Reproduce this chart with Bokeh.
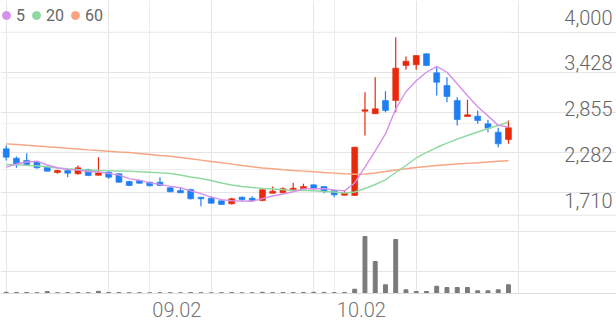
from bokeh.plotting import figure
from bokeh.models import (Range1d, LinearAxis, FixedTicker, Grid, Span, Legend,
                          LegendItem, ColumnDataSource)
from bokeh.core.properties import value
from bokeh.embed import file_html
from bokeh.resources import INLINE

# ---------------- data ----------------
opens = [2541, 2423, 2395, 2373, 2311, 2244, 2269, 2228, 2282, 2210,
         2248, 2228, 2132, 2144, 2123, 2123, 2053, 2019, 2032, 1935,
         1923, 1890, 1853, 1935, 1923, 1894, 1985, 1990, 2028, 2040,
         2090, 2069, 2019, 1960, 1956, 3011, 2979, 3145, 3145, 3583,
         3592, 3730, 3492, 3333, 3145, 2945, 2949, 2854, 2749, 2657]
highs = [2582, 2444, 2486, 2386, 2320, 2278, 2278, 2332, 2291, 2436,
         2269, 2236, 2140, 2153, 2128, 2186, 2060, 2060, 2040, 1937,
         1944, 1894, 1928, 1944, 1948, 2040, 2069, 2060, 2115, 2103,
         2094, 2072, 2022, 2019, 2565, 3249, 3437, 3262, 3937, 3696,
         3712, 3735, 3562, 3437, 3187, 3154, 3020, 2904, 2804, 2895]
lows = [2395, 2303, 2340, 2291, 2258, 2228, 2186, 2216, 2198, 2208,
        2165, 2115, 2073, 2103, 2073, 2080, 1998, 1988, 1906, 1822,
        1853, 1840, 1844, 1885, 1885, 1885, 1985, 1988, 2026, 2038,
        2036, 1985, 1935, 1958, 1950, 2707, 2975, 2999, 2999, 3529,
        3529, 3580, 3208, 3124, 2832, 2943, 2854, 2749, 2561, 2603]
closes = [2436, 2344, 2344, 2303, 2261, 2269, 2236, 2303, 2207, 2240,
          2186, 2123, 2082, 2110, 2078, 2082, 2003, 1990, 1915, 1915,
          1860, 1844, 1915, 1906, 1894, 2028, 2010, 2040, 2048, 2069,
          2040, 2010, 1965, 1985, 2561, 3029, 3041, 3020, 3550, 3637,
          3708, 3583, 3374, 3195, 2907, 2966, 2895, 2799, 2603, 2804]
volumes = [12, 10, 10, 8, 20, 8, 9, 10, 8, 22,
           10, 9, 8, 8, 7, 8, 8, 7, 9, 8,
           7, 8, 9, 7, 8, 12, 9, 10, 9, 10,
           12, 11, 9, 10, 43, 570, 320, 87, 540, 37,
           20, 20, 73, 60, 60, 60, 27, 27, 37, 87]
ma5 = [2311, 2351, 2376, 2386, 2338, 2304, 2283, 2274, 2256, 2251,
       2234, 2212, 2168, 2148, 2115, 2095, 2070, 2053, 2014, 1981,
       1936, 1905, 1890, 1888, 1884, 1918, 1950, 1975, 2004, 2039,
       2041, 2041, 2027, 2014, 2113, 2311, 2516, 2727, 3040, 3255,
       3392, 3499, 3571, 3499, 3354, 3205, 3068, 2953, 2834, 2814]
ma20 = [2344, 2341, 2334, 2328, 2316, 2301, 2291, 2282, 2276, 2269,
        2265, 2263, 2261, 2254, 2248, 2240, 2232, 2213, 2188, 2169,
        2144, 2113, 2088, 2069, 2057, 2044, 2038, 2028, 2019, 2019,
        2015, 2007, 2000, 1988, 2000, 2044, 2094, 2153, 2244, 2332,
        2426, 2495, 2557, 2613, 2663, 2707, 2751, 2795, 2832, 2876]
ma60 = [2603, 2595, 2585, 2576, 2566, 2557, 2547, 2538, 2528, 2520,
        2511, 2501, 2495, 2482, 2470, 2457, 2447, 2432, 2416, 2399,
        2382, 2366, 2349, 2332, 2316, 2301, 2291, 2279, 2269, 2261,
        2253, 2244, 2236, 2228, 2223, 2226, 2238, 2257, 2276, 2291,
        2307, 2319, 2332, 2342, 2351, 2359, 2367, 2376, 2385, 2391]
price_ticks = [4000, 3428, 2855, 2282, 1710]
price_tick_labels = ["4,000", "3,428", "2,855", "2,282", "1,710"]
date_tick_idx = [14, 32]
date_tick_labels = ["09.02", "10.02"]
ma_labels = ["5", "20", "60"]

# ---------------- styles ----------------
RED, BLUE = "#e8290b", "#1f7ef2"
C5, C20, C60 = "#d690ec", "#8fd9a0", "#f7a583"
FONT = "Roboto Light"
NAN = float("nan")
FRAME_W, FRAME_H = 616, 293

n = len(closes)
xs = list(range(n))
src = ColumnDataSource(dict(
    x=xs,
    top=[max(o, c) for o, c in zip(opens, closes)],
    bottom=[min(o, c) for o, c in zip(opens, closes)],
    high=highs, low=lows,
    color=[RED if c >= o else BLUE for o, c in zip(opens, closes)],
    vol=volumes,
))

x_start, x_end = -0.556, 59.54
y_start, y_end = 730.1, 4396.7
px_per_unit = FRAME_H / (y_end - y_start)
label_shift = 15 / px_per_unit          # labels sit 15px above their grid line

p = figure(frame_width=FRAME_W, frame_height=FRAME_H,
           x_range=Range1d(x_start, x_end), y_range=Range1d(y_start, y_end),
           output_backend="svg", toolbar_location=None,
           x_axis_location=None, y_axis_location=None,
           min_border=0, min_border_bottom=28, outline_line_color=None,
           background_fill_color="white", border_fill_color="white")
p.extra_x_ranges = {"lbl": Range1d(x_start - 2.65, x_end - 2.65)}
p.extra_y_ranges = {"vol": Range1d(0, 2930),
                    "plbl": Range1d(y_start - label_shift, y_end - label_shift)}

# grids
p.add_layout(Grid(dimension=0, ticker=FixedTicker(ticks=date_tick_idx),
                  grid_line_color="#ececec"))
p.segment(x0=x_start, x1=n - 1 + 0.3, y0=price_ticks[:-1], y1=price_ticks[:-1],
          line_color="#efefef", line_width=1)
p.add_layout(Span(location=price_ticks[-1], dimension="width",
                  line_color="#e4e4e4", line_width=1))

# x axis (labels start at the grid line)
xa = LinearAxis(x_range_name="lbl", ticker=FixedTicker(ticks=date_tick_idx),
                major_label_overrides=dict(zip(date_tick_idx, date_tick_labels)),
                axis_line_color="#dddddd", major_tick_line_color=None,
                minor_tick_line_color=None, major_label_standoff=2,
                major_label_text_font=FONT, major_label_text_font_size="20px",
                major_label_text_color="#757575")
p.add_layout(xa, "below")

# volume
p.vbar(x="x", width=0.38, top="vol", bottom=0, y_range_name="vol",
       color="#7a7a7a", source=src)

# candles
p.segment(x0="x", y0="high", x1="x", y1="low", line_color="color",
          line_width=1.2, source=src)
p.vbar(x="x", width=0.58, top="top", bottom="bottom", fill_color="color",
       line_color="color", line_width=0.6, source=src)

# moving averages
p.line(xs, ma60, line_color=C60, line_width=1.4)
p.line(xs, ma20, line_color=C20, line_width=1.4)
p.line(xs, ma5, line_color=C5, line_width=1.4)

# price labels above their grid lines
p.text(x=[x_end] * len(price_ticks), y=price_ticks, text=price_tick_labels,
       y_range_name="plbl", text_align="right", text_baseline="middle",
       x_offset=-4, text_font=value(FONT), text_font_size="20px",
       text_color="#666666")

# legend dots
d5 = p.scatter(x=[0], y=[NAN], marker="circle", color=C5)
d20 = p.scatter(x=[0], y=[NAN], marker="circle", color=C20)
d60 = p.scatter(x=[0], y=[NAN], marker="circle", color=C60)
legend = Legend(items=[LegendItem(label=value(lbl), renderers=[r])
                       for lbl, r in zip(ma_labels, [d5, d20, d60])],
                orientation="horizontal", location=(-4, FRAME_H - 5 - 20),
                glyph_width=20, glyph_height=20, label_height=20, label_width=0,
                label_standoff=0, spacing=1, padding=0, margin=0,
                border_line_color=None, background_fill_alpha=0,
                label_text_font="Roboto", label_text_font_size="16px",
                label_text_color="#666666")
p.add_layout(legend)

open("out.html", "w").write(file_html(p, INLINE))
